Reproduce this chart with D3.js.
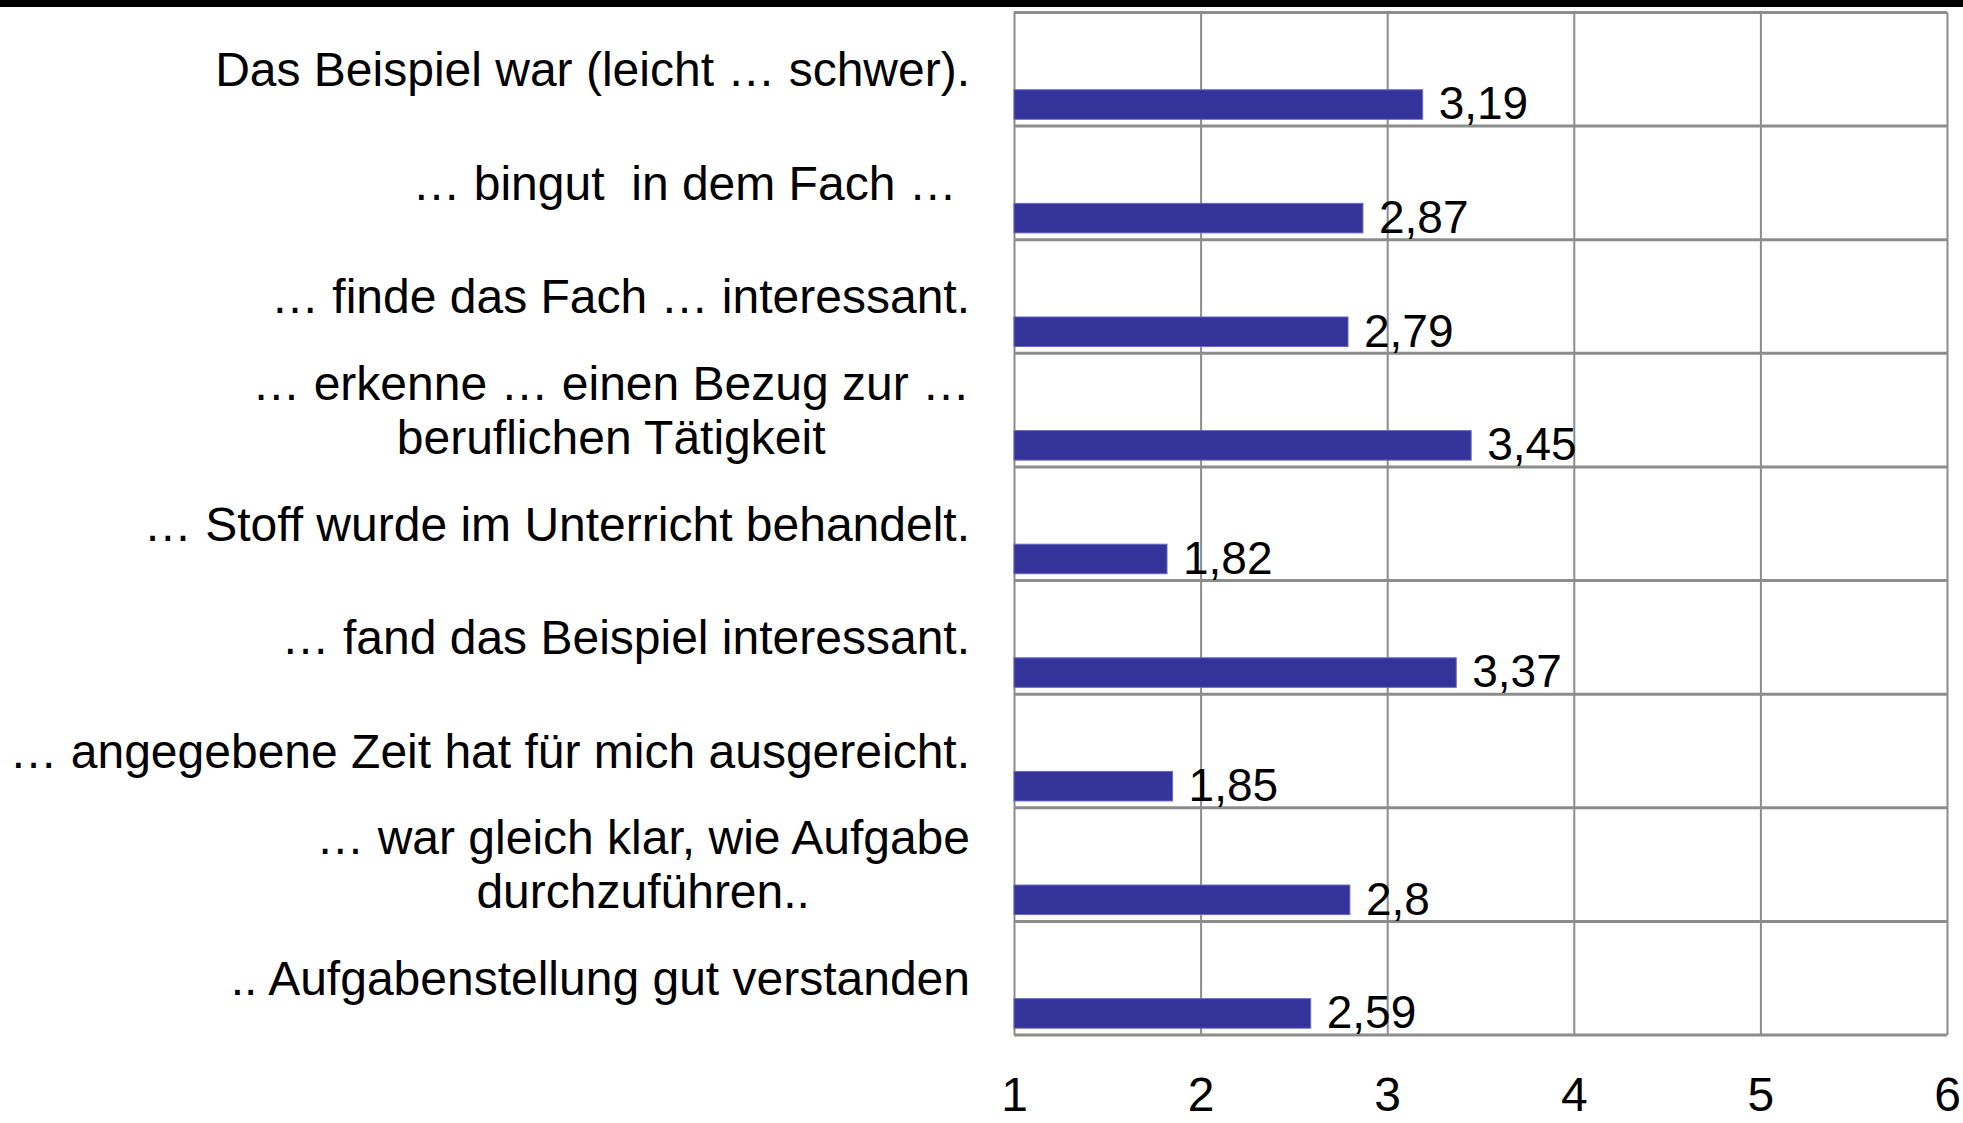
<!DOCTYPE html>
<html>
<head>
<meta charset="utf-8">
<script src="https://cdn.jsdelivr.net/npm/d3@7"></script>
<style>
  html, body { margin: 0; padding: 0; background: #fff; }
  svg { display: block; font-family: "Liberation Sans", Arial, sans-serif; }
</style>
</head>
<body>
<div id="chart"></div>
<script>
// category labels (one entry per line of text)
const categories = [
  ["Das Beispiel war (leicht … schwer)."],
  ["… bingut  in dem Fach … "],
  ["… finde das Fach … interessant."],
  ["… erkenne … einen Bezug zur …", "beruflichen Tätigkeit"],
  ["… Stoff wurde im Unterricht behandelt."],
  ["… fand das Beispiel interessant."],
  ["… angegebene Zeit hat für mich ausgereicht."],
  ["… war gleich klar, wie Aufgabe", "durchzuführen.."],
  [".. Aufgabenstellung gut verstanden"]
];
const values = [3.19, 2.87, 2.79, 3.45, 1.82, 3.37, 1.85, 2.8, 2.59];
const tickValues = [1, 2, 3, 4, 5, 6];

const width = 1963, height = 1123;
const margin = { top: 12.5, right: 16, bottom: 88, left: 1014 };
const keys = categories.map(c => c.join(" "));

const svg = d3.select("#chart")
  .append("svg")
  .attr("width", width)
  .attr("height", height)
  .attr("viewBox", [0, 0, width, height]);

svg.append("rect")
  .attr("width", width).attr("height", height)
  .attr("fill", "#fff");

// black strip along the top edge
svg.append("rect")
  .attr("x", 0).attr("y", 0)
  .attr("width", width).attr("height", 7)
  .attr("fill", "#000");

const x = d3.scaleLinear()
  .domain([1, 6])
  .range([margin.left, width - margin.right]);

const y = d3.scaleBand()
  .domain(keys)
  .range([margin.top, height - margin.bottom]);

const bw = y.bandwidth();
const plotBottom = height - margin.bottom;

// vertical grid lines
svg.append("g")
  .attr("transform", `translate(0,${plotBottom})`)
  .call(d3.axisBottom(x).tickValues(tickValues).tickSize(-(plotBottom - margin.top)).tickFormat(""))
  .call(g => g.select(".domain").remove())
  .call(g => g.selectAll("line").attr("stroke", "#8c8c8c").attr("stroke-width", 2));

// horizontal lines between the rows (and top/bottom border)
svg.append("g")
  .selectAll("line")
  .data(keys.concat(["_end"]))
  .join("line")
  .attr("x1", x(1)).attr("x2", x(6))
  .attr("y1", d => d === "_end" ? plotBottom : y(d))
  .attr("y2", d => d === "_end" ? plotBottom : y(d))
  .attr("stroke", "#8c8c8c")
  .attr("stroke-width", 3);

// bars sit in the lower part of each row
const barTop = 0.68, barH = 0.26;

svg.append("g")
  .selectAll("rect")
  .data(values)
  .join("rect")
  .attr("x", x(1))
  .attr("y", (d, i) => y(keys[i]) + bw * barTop)
  .attr("width", d => x(d) - x(1))
  .attr("height", bw * barH)
  .attr("fill", "#333399")
  .attr("stroke", "#6a6ac0")
  .attr("stroke-width", 1);

// value labels
svg.append("g")
  .selectAll("text")
  .data(values)
  .join("text")
  .attr("x", d => x(d) + 16)
  .attr("y", (d, i) => y(keys[i]) + bw * (barTop + barH))
  .attr("font-size", 46)
  .attr("fill", "#000")
  .text(d => String(d).replace(".", ","));

// category labels: lines centred on each other, block right aligned
const labelRight = 970, lineGap = 54;
const labels = svg.append("g")
  .selectAll("text")
  .data(categories)
  .join("text")
  .attr("font-size", 48)
  .attr("fill", "#000")
  .attr("text-anchor", "middle")
  .style("white-space", "pre");

labels.each(function (lines, i) {
  const t = d3.select(this);
  const cy = y(keys[i]) + bw / 2;
  lines.forEach((line, j) => {
    t.append("tspan")
      .attr("y", cy + (j - (lines.length - 1) / 2) * lineGap)
      .attr("dy", "0.35em")
      .text(line);
  });
  const maxW = d3.max(t.selectAll("tspan").nodes(), n => n.getComputedTextLength());
  t.selectAll("tspan").attr("x", labelRight - maxW / 2);
});

// x axis labels
svg.append("g")
  .attr("transform", `translate(0,${plotBottom})`)
  .call(d3.axisBottom(x).tickValues(tickValues).tickSize(0).tickPadding(42).tickFormat(d3.format("d")))
  .call(g => g.select(".domain").remove())
  .call(g => g.selectAll("text")
    .attr("font-size", 48)
    .attr("font-family", "\"Liberation Sans\", Arial, sans-serif")
    .attr("fill", "#000"));
</script>
</body>
</html>
